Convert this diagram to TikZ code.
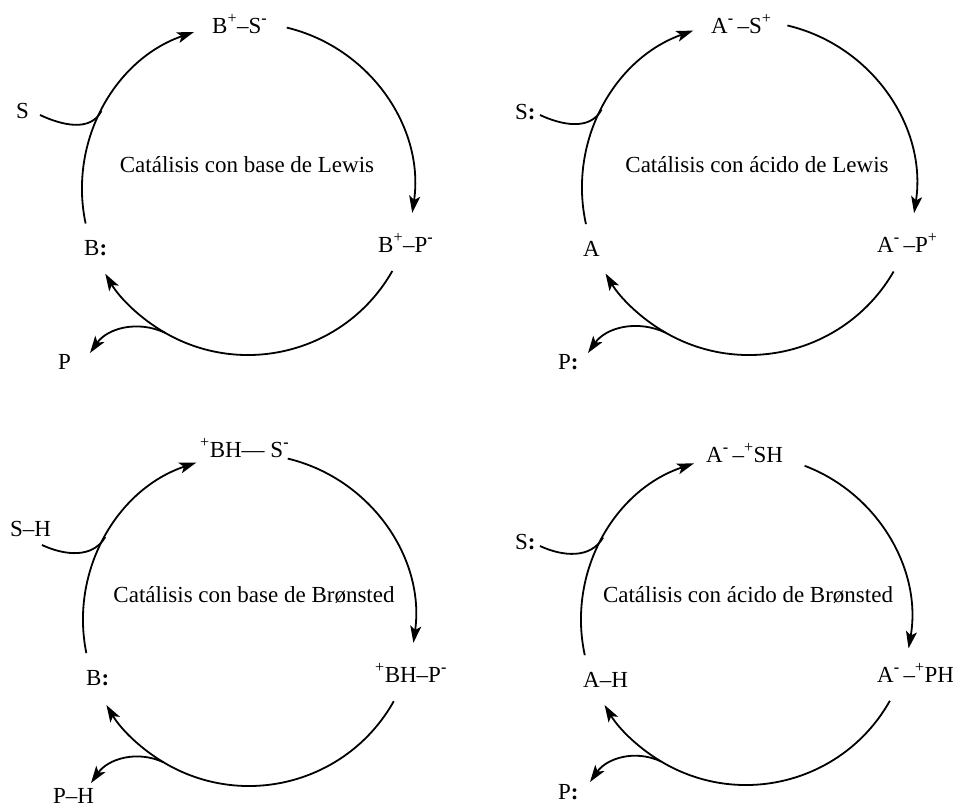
\documentclass[tikz,border=0pt]{standalone}
\usepackage{fontspec}
\setmainfont{Liberation Serif}
\usetikzlibrary{arrows.meta}
\newcommand{\sps}[1]{\textsuperscript{#1}}
\newcommand{\smin}{\textsuperscript{\textbf{-}}}
\begin{document}
\begin{tikzpicture}[x=1pt,y=1pt,
  every node/.style={font=\fontsize{23}{27}\selectfont, inner sep=0pt},
  lbl/.style={anchor=base west},
  ttl/.style={anchor=base},
  ln/.style={line width=1.8pt},
  cyc/.style={line width=1.8pt, -{Stealth[length=17pt,width=11pt,inset=4pt]}}]
\useasboundingbox (0,-809) rectangle (953,0);
% ---------------- top left ----------------
\coordinate (c1) at (248,-189);
\node[lbl] (bs1) at (212,-33) {B\sps{+}–S\smin};
\node[lbl] (b1) at (84,-255) {B\textbf{:}};
\node[lbl] (bp1) at (378,-252) {B\sps{+}–P\smin};
\node[lbl] (s1) at (16,-118) {S};
\node[lbl] (p1) at (58,-369) {P};
\node[ttl] (t1) at (247,-172) {Catálisis con base de Lewis};
\draw[cyc] ([shift={(192:166)}]c1) arc[start angle=192, end angle=109, radius=166];
\draw[cyc] ([shift={(76.5:166)}]c1) arc[start angle=76.5, end angle=-8.3, radius=166];
\draw[cyc] ([shift={(-29.6:166)}]c1) arc[start angle=-29.6, end angle=-149.3, radius=166];
\coordinate (s1a) at (40,-115);
\coordinate (s1b) at ([shift={(152:166)}]c1);
\draw[ln] (s1a) to[out=-25,in=242] (s1b);
\coordinate (p1a) at ([shift={(-120:166)}]c1);
\coordinate (p1b) at (90,-353);
\draw[cyc] (p1a) to[out=155,in=55] (p1b);
% ---------------- top right ----------------
\coordinate (c2) at (749,-188);
\node[lbl] (as2) at (711,-33) {A\smin\,–S\sps{+}};
\node[lbl] (a2) at (583,-256) {A};
\node[lbl] (ap2) at (877,-252) {A\smin\,–P\sps{+}};
\node[lbl] (s2) at (515,-119) {S\textbf{:}};
\node[lbl] (p2) at (558,-369) {P\textbf{:}};
\node[ttl] (t2) at (757,-172) {Catálisis con ácido de Lewis};
\draw[cyc] ([shift={(192.5:167)}]c2) arc[start angle=192.5, end angle=109.5, radius=167];
\draw[cyc] ([shift={(76.7:167)}]c2) arc[start angle=76.7, end angle=-8.7, radius=167];
\draw[cyc] ([shift={(-30:167)}]c2) arc[start angle=-30, end angle=-149.2, radius=167];
\coordinate (s2a) at (540,-115);
\coordinate (s2b) at ([shift={(152:167)}]c2);
\draw[ln] (s2a) to[out=-25,in=242] (s2b);
\coordinate (p2a) at ([shift={(-120:167)}]c2);
\coordinate (p2b) at (588,-353);
\draw[cyc] (p2a) to[out=155,in=55] (p2b);
% ---------------- bottom left ----------------
\coordinate (c3) at (249,-620);
\node[lbl] (bs3) at (200,-457) {\sps{+}BH— S\smin};
\node[lbl] (b3) at (86,-685) {B\textbf{:}};
\node[lbl] (bp3) at (375,-682) {\sps{+}BH–P\smin};
\node[lbl] (s3) at (10,-536) {S–H};
\node[lbl] (p3) at (53,-803) {P–H};
\node[ttl] (t3) at (254,-602) {Catálisis con base de Brønsted};
\draw[cyc] ([shift={(191.5:166)}]c3) arc[start angle=191.5, end angle=108.5, radius=166];
\draw[cyc] ([shift={(76.5:166)}]c3) arc[start angle=76.5, end angle=-7.9, radius=166];
\draw[cyc] ([shift={(-29.3:166)}]c3) arc[start angle=-29.3, end angle=-149.2, radius=166];
\coordinate (s3a) at (42,-545);
\coordinate (s3b) at ([shift={(150:166)}]c3);
\draw[ln] (s3a) to[out=-25,in=240] (s3b);
\coordinate (p3a) at ([shift={(-121:166)}]c3);
\coordinate (p3b) at (91,-783);
\draw[cyc] (p3a) to[out=155,in=55] (p3b);
% ---------------- bottom right ----------------
\coordinate (c4) at (746,-620);
\node[lbl] (as4) at (706,-462) {A\smin\,–\sps{+}SH};
\node[lbl] (a4) at (583,-687) {A–H};
\node[lbl] (ap4) at (877,-682) {A\smin\,–\sps{+}PH};
\node[lbl] (s4) at (515,-549) {S\textbf{:}};
\node[lbl] (p4) at (558,-799) {P\textbf{:}};
\node[ttl] (t4) at (748,-602) {Catálisis con ácido de Brønsted};
\draw[cyc] ([shift={(192.3:165)}]c4) arc[start angle=192.3, end angle=108.4, radius=165];
\draw[cyc] ([shift={(69.2:165)}]c4) arc[start angle=69.2, end angle=-9.9, radius=165];
\draw[cyc] ([shift={(-29.3:165)}]c4) arc[start angle=-29.3, end angle=-149, radius=165];
\coordinate (s4a) at (540,-546);
\coordinate (s4b) at ([shift={(150:165)}]c4);
\draw[ln] (s4a) to[out=-25,in=240] (s4b);
\coordinate (p4a) at ([shift={(-121:165)}]c4);
\coordinate (p4b) at (590,-782);
\draw[cyc] (p4a) to[out=155,in=55] (p4b);
\end{tikzpicture}
\end{document}
